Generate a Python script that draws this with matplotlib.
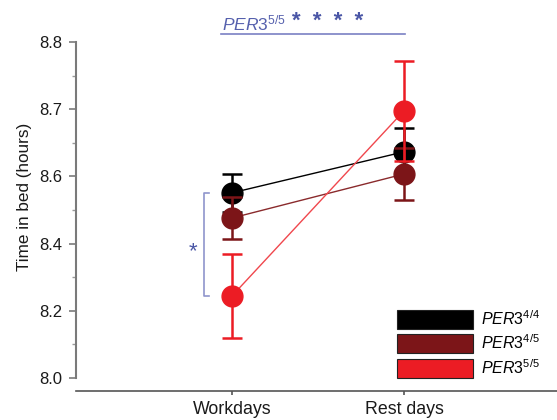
import numpy as np
import matplotlib
matplotlib.use("Agg")
import matplotlib.pyplot as plt
from matplotlib.patches import Patch

plt.rcParams['font.family'] = 'Liberation Sans'
plt.rcParams['mathtext.fontset'] = 'custom'
plt.rcParams['mathtext.rm'] = 'Liberation Sans'
plt.rcParams['mathtext.it'] = 'Liberation Sans:italic'

days = ['Workdays', 'Rest days']
genotypes = ['4/4', '4/5', '5/5']
colors = ['#000000', '#7c1518', '#ec1c24']
line_colors = ['#000000', '#8a2a2c', '#f0474d']

# mean time in bed (hours) +/- error, workdays then rest days
tib_44 = [8.551, 8.673]
err_44 = [0.057, 0.071]
tib_45 = [8.476, 8.607]
err_45 = [0.062, 0.077]
tib_55 = [8.244, 8.795]
err_55 = [0.124, 0.149]

ytick_vals = [8.0, 8.2, 8.4, 8.6, 8.8, 9.0]
ytick_labels = ['8.0', '8.2', '8.4', '8.6', '8.7', '8.8']

blue = '#4a56a6'
light_blue = '#8f95cc'

fig = plt.figure(figsize=(5.57, 4.20), dpi=100)
ax = fig.add_axes([76 / 557, 29 / 420, 481 / 557, 349 / 420])

x = np.arange(len(days))
means = [tib_44, tib_45, tib_55]
errs = [err_44, err_45, err_55]

for i, (m, e) in enumerate(zip(means, errs)):
    ax.plot(x, m, color=line_colors[i], lw=1.0, zorder=3 + i)
    ax.errorbar(x, m, yerr=e, fmt='o', color=colors[i], ms=15, mec=colors[i],
                capsize=7.5, elinewidth=1.8, capthick=1.8, zorder=3 + i)

ax.set_xlim(-0.907, 1.89)
ax.set_ylim(7.961, 9.0)

ax.set_xticks(x)
ax.set_xticklabels(days)
ax.set_yticks(ytick_vals)
ax.set_yticklabels(ytick_labels)
ax.set_yticks(np.arange(8.1, 9.0, 0.2), minor=True)

for s in ['top', 'right']:
    ax.spines[s].set_visible(False)
ax.spines['left'].set_bounds(8.0, 9.0)
ax.spines['left'].set_color('#7a7a7a')
ax.spines['left'].set_linewidth(1.5)
ax.spines['bottom'].set_color('#555555')
ax.spines['bottom'].set_linewidth(1.2)

ax.tick_params(axis='y', which='major', length=5, width=1.2, color='#7a7a7a',
               labelsize=12, pad=5, labelcolor='#1a1a1a')
ax.tick_params(axis='y', which='minor', length=3, width=1.0, color='#9a9a9a')
ax.tick_params(axis='x', length=3, width=1.2, color='#555555',
               labelsize=12.8, pad=4, labelcolor='#1a1a1a')

ax.set_ylabel('Time in bed (hours)', fontsize=12.3, color='#1a1a1a')
ax.yaxis.set_label_coords(-0.0915, 0.555)

# workday comparison 4/4 vs 5/5
bx = -0.163
ax.plot([bx + 0.03, bx, bx, bx + 0.03], [tib_44[0], tib_44[0], tib_55[0], tib_55[0]],
        color=light_blue, lw=1.2)
ax.text(bx - 0.065, (tib_44[0] + tib_55[0]) / 2 - 0.022, '*', color=blue, fontsize=16,
        ha='center', va='center')

# day-type effect within 5/5
ax.plot([-0.064, 1.006], [9.024, 9.024], color='#7a80c4', lw=1.2, clip_on=False)
ax.text(-0.058, 9.036, r'$\mathit{PER3}^{\mathit{5/5}}$', color='#5560ad',
        fontsize=12.5, ha='left', va='baseline', clip_on=False)
ax.text(0.35, 9.045, '*  *  *  *', color=blue, fontsize=16, fontweight='bold',
        ha='left', va='baseline', clip_on=False)

handles = [Patch(facecolor=c, edgecolor='#222222', lw=0.8) for c in colors]
labels = [r'$\mathit{PER3}^{\mathit{%s}}$' % g for g in genotypes]
ax.legend(handles, labels, loc='lower left', bbox_to_anchor=(0.667, 0.037),
          frameon=False, fontsize=11.5, handlelength=4.8, handleheight=1.45,
          labelspacing=0.3, handletextpad=0.5, borderpad=0, borderaxespad=0)

fig.savefig('out.png', dpi=100)
